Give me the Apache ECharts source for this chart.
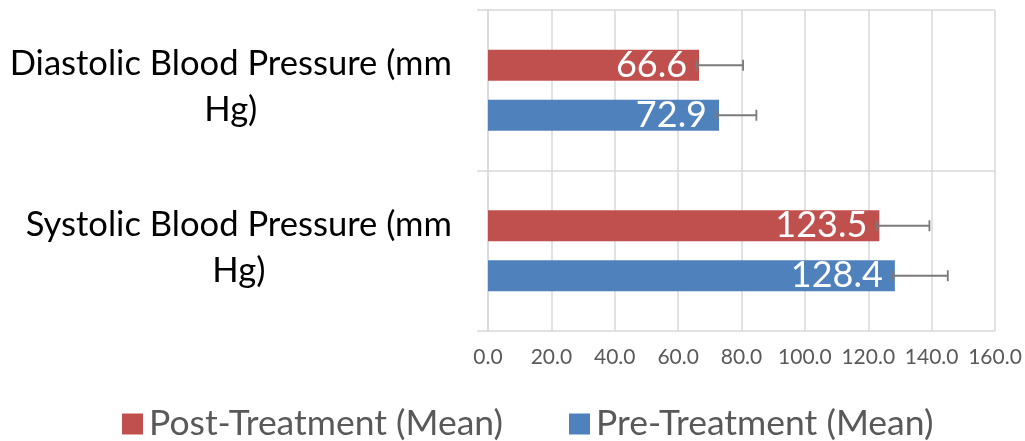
<!DOCTYPE html>
<html>
<head>
<meta charset="utf-8">
<script src="https://cdn.jsdelivr.net/npm/echarts@6/dist/echarts.min.js"></script>
<style>
html,body{margin:0;padding:0;background:#fff;}
#chart{width:1025px;height:441px;}
</style>
</head>
<body>
<div id="chart"></div>
<script>
// Categories (bottom to top, as drawn on the category axis)
var categories = ['Systolic Blood Pressure (mm Hg)', 'Diastolic Blood Pressure (mm Hg)'];
// Series values
var preMean = [128.4, 72.9];
var postMean = [123.5, 66.6];
// Error bar extents (low, high)
var preErrLow = [127.6, 71.9];
var preErrHigh = [145.1, 84.7];
var postErrLow = [122.7, 65.8];
var postErrHigh = [139.3, 80.5];
// Value axis ticks
var xMin = 0, xMax = 160, xStep = 20;

var seriesNames = ['Post-Treatment (Mean)', 'Pre-Treatment (Mean)'];
var FONT = 'Lato';
var BAR_W = 31, BAR_GAP = 19;

function errData(lo, hi) {
  return lo.map(function (l, i) { return [i, l, hi[i]]; });
}
function errRender(shift) {
  return function (params, api) {
    var cat = api.value(0);
    var p1 = api.coord([api.value(1), cat]);
    var p2 = api.coord([api.value(2), cat]);
    var y = p1[1] + shift;
    var cap = 5.5;
    var st = { stroke: '#7a7a7a', lineWidth: 1.8 };
    return {
      type: 'group',
      children: [
        { type: 'line', shape: { x1: p1[0], y1: y, x2: p2[0], y2: y }, style: st },
        { type: 'line', shape: { x1: p1[0], y1: y - cap, x2: p1[0], y2: y + cap }, style: st },
        { type: 'line', shape: { x1: p2[0], y1: y - cap, x2: p2[0], y2: y + cap }, style: st }
      ]
    };
  };
}
var off = (BAR_W + BAR_GAP) / 2;

var barLabel = {
  show: true, position: 'insideRight', distance: 12, color: '#ffffff',
  fontFamily: FONT, fontSize: 36,
  formatter: function (p) { return p.value.toFixed(1); }
};

var chart = echarts.init(document.getElementById('chart'), null, { renderer: 'canvas' });
chart.setOption({
  animation: false,
  backgroundColor: '#ffffff',
  grid: { left: 488, right: 30, top: 10, bottom: 110, containLabel: false },
  legend: {
    data: seriesNames,
    left: 117,
    top: 401,
    icon: 'rect',
    itemWidth: 21,
    itemHeight: 21,
    itemGap: 66,
    textStyle: { fontFamily: FONT, fontSize: 35.5, color: '#595959', padding: [0, 0, 0, 1] }
  },
  xAxis: {
    type: 'value',
    min: xMin, max: xMax, interval: xStep,
    axisLine: { show: false },
    axisTick: { show: false },
    splitLine: { show: true, lineStyle: { color: '#d9d9d9', width: 1.5 } },
    axisLabel: {
      fontFamily: FONT, fontSize: 21, color: '#595959', margin: 16,
      formatter: function (v) { return v.toFixed(1); }
    }
  },
  yAxis: {
    type: 'category',
    data: categories,
    axisLine: { show: true, lineStyle: { color: '#d9d9d9', width: 1.5 } },
    axisTick: { show: true, length: 11, lineStyle: { color: '#d9d9d9', width: 1.5 } },
    splitLine: { show: true, lineStyle: { color: '#d9d9d9', width: 1.5 } },
    axisLabel: {
      fontFamily: FONT, fontSize: 34.6, color: '#000000',
      align: 'right', margin: 36, lineHeight: 46, padding: [0, 0, 6, 0],
      formatter: function (v) {
        var parts = v.split(' Hg)');
        return '{c|' + parts[0] + '}\n{c|Hg)}';
      },
      rich: {
        c: { align: 'center', fontFamily: FONT, fontSize: 34.6, color: '#000000', lineHeight: 46 }
      }
    }
  },
  series: [
    {
      name: seriesNames[0], type: 'bar', data: postMean,
      barWidth: BAR_W, barGap: (BAR_GAP / BAR_W * 100) + '%',
      itemStyle: { color: '#c0504d' },
      label: barLabel
    },
    {
      name: seriesNames[1], type: 'bar', data: preMean,
      barWidth: BAR_W, barGap: (BAR_GAP / BAR_W * 100) + '%',
      itemStyle: { color: '#4f81bd' },
      label: barLabel
    },
    {
      name: 'postErr', type: 'custom', data: errData(postErrLow, postErrHigh),
      encode: { x: [1, 2], y: 0 }, z: 5,
      renderItem: errRender(-off)
    },
    {
      name: 'preErr', type: 'custom', data: errData(preErrLow, preErrHigh),
      encode: { x: [1, 2], y: 0 }, z: 5,
      renderItem: errRender(off)
    }
  ]
});
</script>
</body>
</html>
